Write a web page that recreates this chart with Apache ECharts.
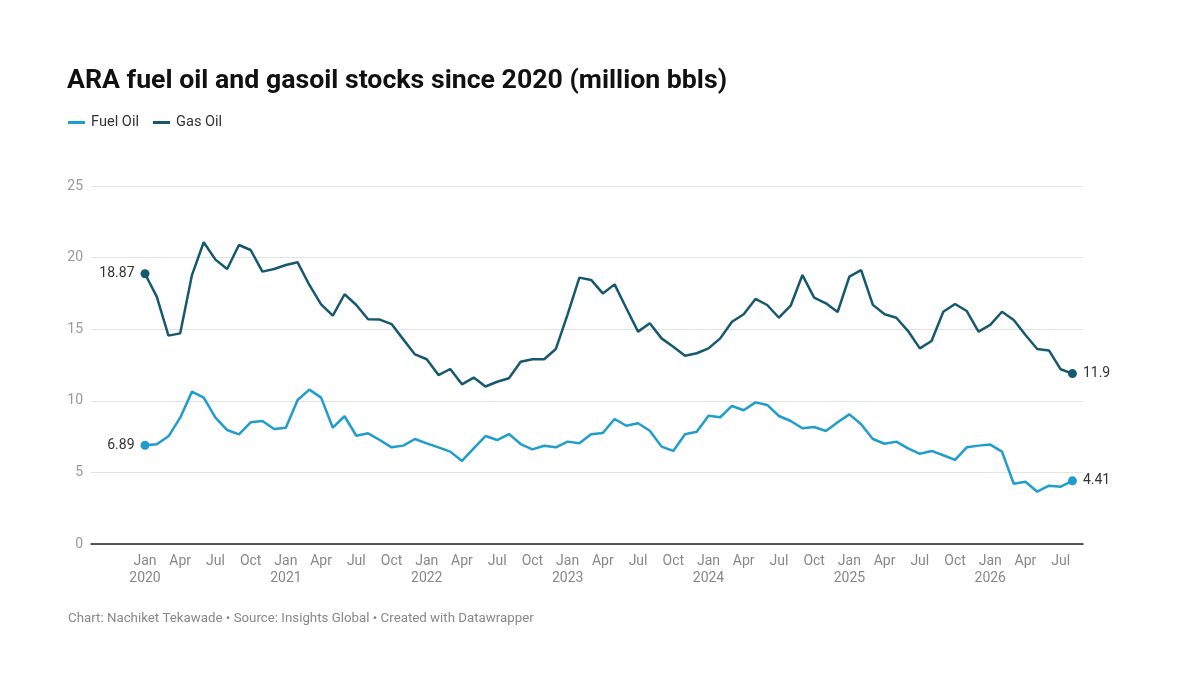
<!DOCTYPE html>
<html>
<head>
<meta charset="utf-8">
<script src="https://cdn.jsdelivr.net/npm/echarts@6/dist/echarts.min.js"></script>
<style>
html,body{margin:0;padding:0;background:#fff;}
#chart{width:1200px;height:694px;}
</style>
</head>
<body>
<div id="chart"></div>
<script>
// Monthly observations, Jan 2020 .. Aug 2026
var startYear = 2020;
var monthNames = ['Jan','Feb','Mar','Apr','May','Jun','Jul','Aug','Sep','Oct','Nov','Dec'];
var tickMonths = ['Jan','Apr','Jul','Oct'];

var fuelOil = [
  6.89, 6.96, 7.52, 8.82, 10.64, 10.22, 8.82, 7.96, 7.66, 8.5, 8.59, 8.03,
  8.12, 10.06, 10.78, 10.22, 8.12, 8.92, 7.56, 7.73, 7.26, 6.75, 6.87, 7.33,
  7.03, 6.75, 6.45, 5.8, 6.68, 7.54, 7.26, 7.68, 6.98, 6.61, 6.86, 6.75,
  7.15, 7.03, 7.66, 7.75, 8.73, 8.26, 8.43, 7.91, 6.8, 6.5, 7.66, 7.84,
  8.96, 8.85, 9.64, 9.34, 9.89, 9.71, 8.94, 8.59, 8.08, 8.17, 7.89, 8.5,
  9.05, 8.36, 7.33, 7.0, 7.15, 6.68, 6.3, 6.5, 6.2, 5.87, 6.75, 6.87,
  6.94, 6.45, 4.21, 4.35, 3.65, 4.07, 4.0, 4.41
];
var gasOil = [
  18.87, 17.27, 14.55, 14.71, 18.78, 21.07, 19.86, 19.2, 20.88, 20.53, 19.02, 19.2,
  19.48, 19.67, 18.09, 16.74, 15.95, 17.44, 16.69, 15.69, 15.67, 15.36, 14.29, 13.24,
  12.9, 11.8, 12.22, 11.15, 11.62, 11.0, 11.33, 11.57, 12.73, 12.9, 12.9, 13.62,
  16.04, 18.6, 18.44, 17.5, 18.13, 16.46, 14.83, 15.41, 14.36, 13.78, 13.15, 13.32,
  13.66, 14.36, 15.52, 16.04, 17.11, 16.69, 15.8, 16.64, 18.78, 17.2, 16.81, 16.2,
  18.67, 19.13, 16.7, 16.04, 15.8, 14.87, 13.66, 14.18, 16.22, 16.76, 16.27, 14.83,
  15.3, 16.22, 15.64, 14.6, 13.62, 13.52, 12.2, 11.9
];
var yTicks = [0, 5, 10, 15, 20, 25];

var fuelLabels = {first: '6.89', last: '4.41'};
var gasLabels = {first: '18.87', last: '11.9'};

var COLOR_FUEL = '#1f9dcc';
var COLOR_GAS = '#16596f';

function monthLabel(i) {
  var m = ((i % 12) + 12) % 12;
  var y = startYear + Math.floor(i / 12);
  return m === 0 ? monthNames[m] + '\n' + y : monthNames[m];
}

var tickIdx = [];
for (var i = 0; i < fuelOil.length; i++) {
  if (tickMonths.indexOf(monthNames[i % 12]) >= 0) tickIdx.push(i);
}

function buildData(arr, labels) {
  var out = [];
  for (var i = 0; i < arr.length; i++) {
    var item = {value: [i, arr[i]]};
    if (i === 0 || i === arr.length - 1) {
      item.symbol = 'circle';
      item.symbolSize = 9;
      item.label = {
        show: true,
        position: i === 0 ? 'left' : 'right',
        distance: 6,
        formatter: i === 0 ? labels.first : labels.last,
        color: '#333',
        fontSize: 14,
        fontFamily: 'Roboto'
      };
    }
    out.push(item);
  }
  return out;
}

var chart = echarts.init(document.getElementById('chart'), null, {renderer: 'canvas'});
chart.setOption({
  animation: false,
  backgroundColor: '#fff',
  textStyle: {fontFamily: 'Roboto'},
  title: {
    text: 'ARA fuel oil and gasoil stocks since 2020 (million bbls)',
    left: 67, top: 68, padding: 0,
    textStyle: {fontFamily: 'Roboto', fontWeight: 'bold', fontSize: 26.7, color: '#111'}
  },
  legend: {
    left: 63, top: 110,
    icon: 'rect', itemWidth: 17, itemHeight: 3, itemGap: 14,
    textStyle: {fontFamily: 'Roboto', fontSize: 14.6, color: '#333', padding: [0, 0, 0, 1]},
    data: ['Fuel Oil', 'Gas Oil']
  },
  graphic: [{
    type: 'text', left: 68, top: 612,
    style: {
      text: 'Chart: Nachiket Tekawade \u2022 Source: Insights Global \u2022 Created with Datawrapper',
      fill: '#888', fontSize: 13.3, fontFamily: 'Roboto'
    }
  }],
  grid: {left: 91, right: 117, top: 186, bottom: 150, containLabel: false},
  xAxis: {
    type: 'value',
    min: -4.6, max: 79.9,
    axisLine: {show: true, lineStyle: {color: '#222', width: 1.5}},
    axisTick: {show: false},
    splitLine: {show: false},
    axisLabel: {
      customValues: tickIdx,
      formatter: function (v) { return monthLabel(Math.round(v)); },
      color: '#888', fontSize: 14, lineHeight: 17, margin: 9, fontFamily: 'Roboto'
    }
  },
  yAxis: {
    type: 'value',
    min: 0, max: 25, interval: 5,
    axisLine: {show: false},
    axisTick: {show: false},
    splitLine: {lineStyle: {color: '#e3e3e3', width: 1}},
    axisLabel: {color: '#999', fontSize: 14, margin: 8, fontFamily: 'Roboto',
      formatter: function (v) { return yTicks.indexOf(v) >= 0 ? String(v) : ''; }}
  },
  series: [
    {
      name: 'Fuel Oil', type: 'line', color: COLOR_FUEL,
      symbol: 'none', showSymbol: true,
      lineStyle: {width: 2.5, color: COLOR_FUEL},
      itemStyle: {color: COLOR_FUEL},
      data: buildData(fuelOil, fuelLabels), z: 3
    },
    {
      name: 'Gas Oil', type: 'line', color: COLOR_GAS,
      symbol: 'none', showSymbol: true,
      lineStyle: {width: 2.5, color: COLOR_GAS},
      itemStyle: {color: COLOR_GAS},
      data: buildData(gasOil, gasLabels), z: 3
    }
  ]
});
</script>
</body>
</html>
